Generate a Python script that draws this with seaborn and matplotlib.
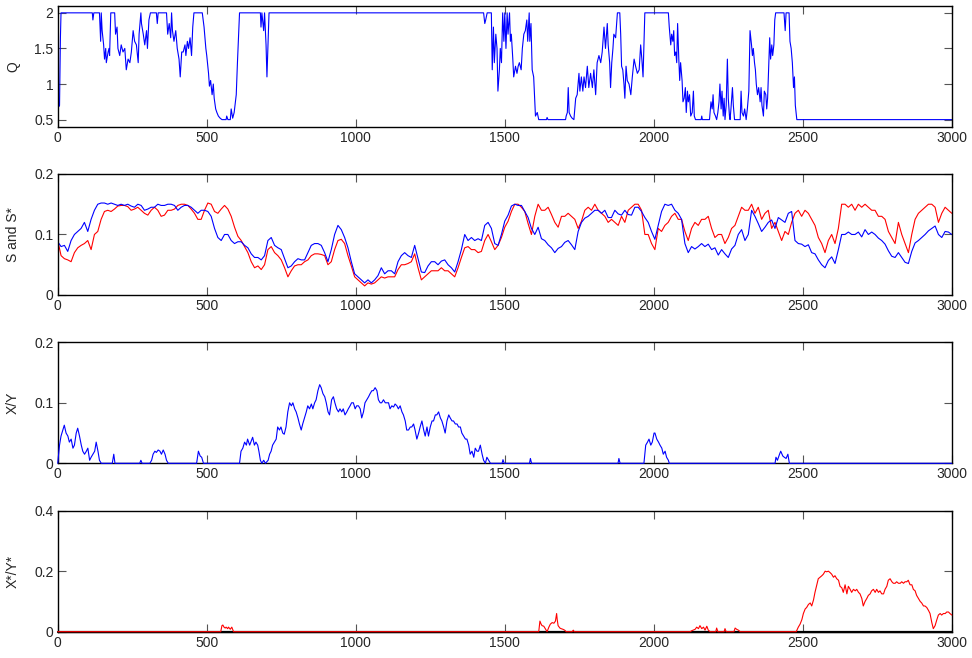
import numpy as np
import matplotlib
matplotlib.use('Agg')
import matplotlib.pyplot as plt
import seaborn as sns

# ---- values ----

# Q (top panel), time and value
q_t = [0, 3, 6, 9, 11, 116, 118, 121, 140, 144, 146, 149, 154, 157, 161, 163, 169, 172, 174, 178,
       191, 194, 199, 202, 208, 213, 219, 225, 230, 236, 242, 247, 253, 258, 264, 270, 273, 279, 281, 287,
       292, 298, 301, 306, 311, 331, 334, 337, 365, 369, 374, 379, 382, 385, 390, 396, 401, 407, 411, 416,
       421, 427, 430, 435, 439, 444, 449, 453, 457, 485, 491, 497, 500, 506, 509, 513, 518, 522, 525, 530,
       534, 539, 545, 551, 565, 567, 571, 579, 582, 587, 592, 596, 599, 603, 610, 680, 682, 685, 691, 694,
       699, 702, 706, 709,
       1429, 1433, 1436, 1441, 1455, 1458, 1462, 1465, 1470, 1474, 1477, 1482, 1485, 1489, 1493, 1497,
       1500, 1504, 1508, 1511, 1516, 1519, 1522, 1527, 1530, 1536, 1541, 1545, 1549, 1555, 1559, 1564,
       1569, 1574, 1577, 1582, 1584, 1588, 1592, 1597, 1603, 1609, 1614, 1640, 1642, 1645, 1704, 1706,
       1710, 1713, 1716, 1721, 1726, 1732, 1738, 1743, 1749, 1752, 1757, 1762, 1766, 1771, 1777, 1782,
       1788, 1794, 1799, 1805, 1810, 1816, 1822, 1827, 1833, 1838, 1844, 1847, 1852, 1855, 1859, 1863,
       1866, 1872, 1878, 1886, 1889, 1892, 1896, 1900, 1903, 1907, 1911, 1917, 1923, 1928, 1934, 1939,
       1945, 1951, 1956, 1960, 1964, 1970,
       2049, 2052, 2057, 2060, 2064, 2067, 2070, 2074, 2077, 2080, 2084, 2087, 2090, 2095, 2098, 2102,
       2106, 2109, 2113, 2116, 2120, 2124, 2129, 2133, 2136, 2140, 2159, 2161, 2163, 2187, 2189, 2192,
       2196, 2199, 2202, 2207, 2211, 2215, 2219, 2222, 2226, 2229, 2233, 2236, 2239, 2243, 2247, 2250,
       2254, 2256, 2259, 2264, 2267, 2271, 2290, 2293, 2296, 2301, 2305, 2310, 2314, 2319, 2323, 2328,
       2331, 2334, 2338, 2341, 2344, 2348, 2352, 2357, 2360, 2363, 2368, 2371, 2376, 2379, 2382, 2386,
       2389, 2392, 2396, 2399, 2403, 2406, 2409, 2437, 2441, 2444, 2454, 2457, 2461, 2465, 2469, 2472,
       2475, 2480, 3000]
q_v = [1.0, 0.68, 0.7, 1.65, 2.0, 2.0, 1.9, 2.0, 2.0, 1.6, 2.0, 1.75, 1.55, 1.35, 1.5, 1.3, 1.45, 1.5, 1.4, 2.0,
       2.0, 1.7, 1.8, 1.5, 1.4, 1.55, 1.45, 1.5, 1.2, 1.35, 1.3, 1.45, 1.75, 1.6, 1.55, 1.3, 1.7, 2.0, 1.85, 1.7,
       1.55, 1.75, 1.5, 1.9, 2.0, 2.0, 1.85, 2.0, 2.0, 1.7, 1.85, 1.65, 2.0, 1.75, 1.6, 1.75, 1.5, 1.35, 1.1, 1.45,
       1.45, 1.55, 1.4, 1.6, 1.5, 1.65, 1.4, 1.8, 2.0, 2.0, 1.8, 1.5, 1.4, 1.15, 0.97, 1.05, 0.85, 1.0, 0.8, 0.65,
       0.6, 0.55, 0.52, 0.5, 0.5, 0.55, 0.5, 0.5, 0.65, 0.52, 0.6, 0.75, 0.85, 1.3, 2.0, 2.0, 1.8, 2.0, 1.75, 2.0,
       1.55, 1.1, 1.6, 2.0,
       2.0, 1.85, 1.9, 2.0, 2.0, 1.2, 1.8, 1.3, 1.7, 1.5, 0.9, 1.2, 1.5, 1.3, 2.0, 1.6,
       2.0, 1.5, 2.0, 1.7, 2.0, 1.6, 1.7, 1.35, 1.1, 1.25, 1.15, 1.25, 1.3, 1.2, 1.5, 1.7,
       1.75, 1.9, 1.6, 2.0, 1.6, 1.85, 1.2, 1.1, 0.55, 0.6, 0.5, 0.5, 0.53, 0.5, 0.5, 0.55,
       0.6, 0.95, 0.6, 0.55, 0.52, 0.5, 0.8, 0.85, 1.15, 0.9, 1.1, 0.9, 1.1, 0.95, 1.25, 0.95,
       1.15, 0.95, 1.2, 0.85, 1.3, 1.4, 1.3, 1.45, 1.8, 1.5, 1.85, 1.55, 1.3, 0.95, 1.3, 1.5,
       1.7, 1.65, 2.0, 2.0, 1.7, 1.25, 1.2, 1.0, 0.8, 1.25, 1.05, 1.0, 0.85, 1.1, 1.35, 1.25,
       1.15, 1.2, 1.55, 1.35, 1.1, 2.0,
       2.0, 1.8, 1.55, 1.7, 1.6, 1.75, 1.4, 1.45, 1.3, 1.85, 1.35, 1.05, 1.3, 1.05, 0.75, 0.8,
       0.95, 0.6, 0.9, 0.75, 0.85, 0.55, 0.6, 0.9, 0.55, 0.5, 0.5, 0.55, 0.5, 0.5, 0.6, 0.75,
       0.65, 0.85, 0.6, 0.55, 0.5, 0.6, 0.75, 1.0, 0.65, 0.9, 0.55, 0.8, 0.5, 0.7, 1.35, 0.8,
       0.55, 0.5, 0.65, 0.95, 0.7, 0.5, 0.5, 0.9, 0.6, 0.55, 0.65, 0.5, 0.65, 0.9, 1.75, 1.55,
       1.4, 1.5, 1.3, 1.2, 1.0, 0.85, 0.95, 0.75, 0.95, 0.7, 0.55, 0.9, 0.85, 0.65, 0.8, 1.3,
       1.65, 1.35, 1.55, 1.4, 1.55, 1.9, 2.0, 2.0, 1.75, 2.0, 2.0, 1.6, 1.5, 1.3, 0.95, 1.1,
       0.7, 0.5, 0.5]

# S (blue) and S* (red), sampled evenly over 0..3000
s_blue = [0.088, 0.08, 0.082, 0.072, 0.09, 0.1, 0.105, 0.11, 0.12, 0.105,
          0.125, 0.14, 0.15, 0.152, 0.152, 0.15, 0.152, 0.15, 0.148, 0.15,
          0.148, 0.15, 0.147, 0.145, 0.15, 0.148, 0.14, 0.142, 0.145, 0.145,
          0.15, 0.148, 0.148, 0.15, 0.15, 0.148, 0.14, 0.145, 0.148, 0.148,
          0.145, 0.14, 0.135, 0.14, 0.14, 0.138, 0.13, 0.11, 0.095, 0.09,
          0.1, 0.1, 0.09, 0.085, 0.088, 0.088, 0.082, 0.078, 0.068, 0.062,
          0.062, 0.058, 0.065, 0.09, 0.095, 0.082, 0.078, 0.075, 0.06, 0.045,
          0.048, 0.055, 0.06, 0.058, 0.058, 0.07, 0.082, 0.085, 0.085, 0.082,
          0.07, 0.055, 0.075, 0.1, 0.115,
          0.108, 0.095, 0.078, 0.055, 0.035, 0.03, 0.025, 0.02, 0.025, 0.02,
          0.025, 0.032, 0.045, 0.035, 0.04, 0.04, 0.035, 0.055, 0.065, 0.07,
          0.065, 0.062, 0.082, 0.06, 0.038, 0.037, 0.048, 0.055, 0.055, 0.05,
          0.056, 0.058, 0.05, 0.045, 0.038, 0.055, 0.075, 0.1, 0.09, 0.095,
          0.09, 0.093, 0.09, 0.115, 0.12, 0.11, 0.085, 0.082, 0.1, 0.122,
          0.132, 0.147, 0.15, 0.148, 0.148, 0.138, 0.128, 0.11, 0.1, 0.112,
          0.093, 0.09, 0.083, 0.078, 0.07, 0.077, 0.08, 0.087, 0.09, 0.083,
          0.075, 0.105, 0.12, 0.127, 0.13, 0.135, 0.14, 0.14, 0.135, 0.14,
          0.128, 0.128, 0.14, 0.134, 0.132, 0.14, 0.133, 0.132, 0.145, 0.145,
          0.138,
          0.128, 0.12, 0.105, 0.092, 0.115, 0.138, 0.15, 0.148, 0.15, 0.14,
          0.135, 0.125, 0.085, 0.07, 0.08, 0.076, 0.08, 0.085, 0.08, 0.084,
          0.075, 0.078, 0.066, 0.075, 0.068, 0.062, 0.076, 0.082, 0.1, 0.108,
          0.09, 0.1, 0.14, 0.13, 0.118, 0.105, 0.112, 0.12, 0.124, 0.11,
          0.128, 0.124, 0.12, 0.135, 0.138, 0.09, 0.085, 0.084, 0.08, 0.083,
          0.07, 0.068, 0.058, 0.05, 0.045, 0.057, 0.063, 0.052, 0.075, 0.1,
          0.1, 0.104, 0.1, 0.1, 0.104, 0.096, 0.108, 0.1, 0.104, 0.1,
          0.094, 0.09, 0.084, 0.073, 0.064, 0.062, 0.07, 0.062, 0.054, 0.052,
          0.072, 0.086, 0.09, 0.095, 0.1, 0.106, 0.11, 0.114, 0.1, 0.095,
          0.105, 0.104, 0.1]
s_red = [0.09, 0.065, 0.06, 0.058, 0.055, 0.07, 0.078, 0.082, 0.085, 0.09,
         0.075, 0.1, 0.105, 0.125, 0.138, 0.14, 0.138, 0.142, 0.147, 0.148,
         0.148, 0.146, 0.14, 0.142, 0.145, 0.14, 0.135, 0.132, 0.14, 0.145,
         0.14, 0.13, 0.132, 0.14, 0.14, 0.142, 0.148, 0.15, 0.15, 0.148,
         0.142, 0.135, 0.125, 0.125, 0.14, 0.152, 0.15, 0.138, 0.135, 0.142,
         0.148, 0.142, 0.13, 0.112, 0.097, 0.09, 0.08, 0.07, 0.055, 0.045,
         0.048, 0.042, 0.05, 0.075, 0.08, 0.07, 0.065, 0.058, 0.045, 0.03,
         0.04, 0.048, 0.05, 0.05, 0.055, 0.058, 0.065, 0.068, 0.068, 0.067,
         0.065, 0.05, 0.055, 0.075, 0.09,
         0.092, 0.085, 0.065, 0.048, 0.03, 0.025, 0.02, 0.015, 0.02, 0.018,
         0.02, 0.025, 0.03, 0.028, 0.03, 0.03, 0.03, 0.042, 0.05, 0.05,
         0.052, 0.055, 0.068, 0.045, 0.025, 0.03, 0.035, 0.04, 0.04, 0.04,
         0.045, 0.04, 0.04, 0.035, 0.03, 0.045, 0.062, 0.078, 0.08, 0.075,
         0.075, 0.07, 0.072, 0.09, 0.1, 0.088, 0.075, 0.082, 0.095, 0.112,
         0.122, 0.138, 0.15, 0.15, 0.145, 0.138, 0.118, 0.1, 0.13, 0.15,
         0.14, 0.14, 0.145, 0.133, 0.12, 0.112, 0.13, 0.13, 0.135, 0.13,
         0.125, 0.11, 0.122, 0.14, 0.145, 0.14, 0.15, 0.14, 0.135, 0.13,
         0.12, 0.125, 0.12, 0.115, 0.13, 0.12, 0.14, 0.145, 0.15, 0.15,
         0.14,
         0.1, 0.1, 0.085, 0.075, 0.11, 0.105, 0.115, 0.12, 0.13, 0.135,
         0.125, 0.125, 0.105, 0.09, 0.11, 0.12, 0.115, 0.125, 0.125, 0.13,
         0.11, 0.095, 0.1, 0.1, 0.085, 0.095, 0.11, 0.115, 0.13, 0.145,
         0.14, 0.14, 0.15, 0.135, 0.145, 0.125, 0.135, 0.14, 0.11, 0.12,
         0.105, 0.09, 0.105, 0.1, 0.12, 0.135, 0.14, 0.13, 0.14, 0.135,
         0.125, 0.115, 0.095, 0.085, 0.07, 0.09, 0.1, 0.085, 0.11, 0.15,
         0.15, 0.145, 0.15, 0.14, 0.15, 0.145, 0.15, 0.145, 0.14, 0.14,
         0.13, 0.13, 0.125, 0.105, 0.095, 0.085, 0.12, 0.1, 0.085, 0.07,
         0.1, 0.125, 0.135, 0.14, 0.145, 0.15, 0.15, 0.145, 0.12, 0.135,
         0.145, 0.14, 0.135]

# X/Y (third panel)
xy_t = [0, 6, 11, 22, 28, 34, 39, 45, 51, 56, 62, 67, 73, 79, 84, 90, 96, 101, 107, 112, 118, 124, 129, 135, 140, 146,
        183, 188, 192, 275, 279, 283, 309, 315, 320, 326, 331, 337, 343, 348, 354, 360, 365, 371,
        466, 472, 478, 483, 489,
        610, 615, 621, 627, 633, 637, 644, 648, 654, 660, 665, 671, 675, 680, 685, 691, 697, 706, 711, 716,
        721, 727, 733, 738, 744, 749, 755, 760, 766, 772, 778, 784, 789, 795, 800, 806, 811, 817, 822, 828,
        834, 839, 845, 851, 856, 862, 867, 873, 879, 884, 890, 896, 901, 907, 912,
        919, 925, 930, 936, 942, 947, 953, 958, 964, 970, 975, 981, 986, 992, 998, 1003, 1009, 1015, 1020, 1026,
        1031, 1037, 1043, 1048, 1054, 1059, 1065, 1071, 1076, 1082, 1087, 1093, 1099, 1104, 1110, 1115, 1121,
        1127, 1132, 1138, 1143, 1149, 1155, 1160, 1166, 1171, 1177, 1183, 1188, 1194, 1199, 1205, 1211, 1216,
        1222, 1228, 1233, 1239, 1244, 1250, 1256, 1261, 1267, 1272, 1278, 1284, 1289, 1295, 1300, 1306, 1312,
        1317, 1323, 1328, 1334, 1340, 1345, 1351, 1356, 1362, 1368, 1373, 1379, 1384, 1390, 1396, 1401, 1407,
        1412, 1418, 1424, 1429, 1435, 1440, 1446, 1452, 1491, 1494, 1498, 1583, 1586, 1590, 1880, 1883, 1887,
        1967, 1973, 1979, 1984, 1990, 1995, 2001,
        2004, 2010, 2016, 2021, 2027, 2032, 2038, 2043, 2049, 2052, 2407, 2410, 2415, 2422, 2426, 2433, 2438,
        2444, 2450, 2455, 3000]
xy_v = [0, 0.03, 0.045, 0.063, 0.05, 0.045, 0.035, 0.04, 0.025, 0.03, 0.05, 0.058, 0.045, 0.03, 0.02, 0.015,
        0.02, 0.025, 0.005, 0.01, 0.015, 0.02, 0.035, 0.02, 0.005, 0,
        0, 0.015, 0, 0, 0.005, 0, 0, 0.005, 0.015, 0.02, 0.018, 0.022, 0.02, 0.015, 0.022, 0.015, 0.005, 0,
        0, 0.02, 0.012, 0.01, 0,
        0, 0.02, 0.025, 0.035, 0.03, 0.04, 0.03, 0.035, 0.043, 0.03, 0.035, 0.03, 0.02, 0.005, 0, 0.005, 0,
        0.005, 0.015, 0.02, 0.03, 0.035, 0.04, 0.06, 0.055, 0.06, 0.05, 0.048, 0.06, 0.085, 0.1, 0.095, 0.1,
        0.09, 0.085, 0.075, 0.065, 0.055, 0.065, 0.075, 0.085, 0.095, 0.09, 0.098, 0.09, 0.1, 0.105, 0.12,
        0.13, 0.125, 0.115, 0.11, 0.1, 0.085, 0.08,
        0.105, 0.11, 0.1, 0.09, 0.085, 0.09, 0.085, 0.09, 0.08, 0.085, 0.09, 0.095, 0.1, 0.1, 0.09, 0.095,
        0.095, 0.09, 0.075, 0.085, 0.1, 0.105, 0.11, 0.115, 0.12, 0.12, 0.125, 0.12, 0.105, 0.1, 0.1, 0.105,
        0.1, 0.1, 0.1, 0.09, 0.095, 0.093, 0.098, 0.095, 0.09, 0.095, 0.085, 0.08, 0.07, 0.055, 0.055, 0.06,
        0.06, 0.065, 0.055, 0.04, 0.05, 0.06, 0.07, 0.055, 0.045, 0.06, 0.045, 0.06, 0.07, 0.07, 0.08, 0.08,
        0.085, 0.075, 0.07, 0.06, 0.05, 0.07, 0.08, 0.075, 0.07, 0.07, 0.065, 0.065, 0.06, 0.06, 0.05, 0.045,
        0.04, 0.04, 0.03, 0.015, 0.02, 0.01, 0.025, 0.02, 0.02, 0.03, 0.015, 0.005, 0, 0.01, 0.005, 0,
        0, 0.006, 0, 0, 0.008, 0, 0, 0.008, 0,
        0, 0.03, 0.035, 0.04, 0.03, 0.035, 0.05,
        0.05, 0.04, 0.035, 0.03, 0.025, 0.015, 0.02, 0.01, 0.005, 0, 0, 0.01, 0.005, 0.015, 0.02, 0.012,
        0.01, 0.008, 0.015, 0, 0]

# X*/Y* (bottom panel): red series, plus the black series that stays at zero
xs_t = [0, 547, 551, 554, 558, 562, 565, 570, 573, 579, 584, 590,
        1614, 1618, 1622, 1625, 1631, 1637, 1642, 1648, 1653, 1659, 1665, 1670, 1674, 1676, 1679, 1685,
        1689, 1695, 1701, 1706, 1726, 1730, 1733,
        2122, 2127, 2139, 2144, 2150, 2155, 2161, 2167, 2172, 2178, 2183, 2189, 2208, 2211, 2215, 2236,
        2239, 2243, 2269, 2273, 2278, 2284, 2290, 2478,
        2485, 2491, 2497, 2502, 2508, 2513, 2519, 2525, 2530, 2536, 2541, 2547, 2552, 2558, 2564, 2569,
        2575, 2580, 2586, 2592, 2597, 2603, 2608, 2614, 2620, 2625, 2631, 2636, 2642, 2648, 2653, 2659,
        2664, 2670, 2676, 2681, 2687, 2692, 2698, 2703, 2709, 2715, 2720, 2726, 2731, 2737, 2743, 2748,
        2754, 2759, 2765, 2771, 2776, 2782, 2787, 2793, 2799, 2804, 2810, 2815, 2821, 2827, 2832, 2838,
        2843, 2849, 2854, 2860, 2866, 2871, 2877, 2882, 2888, 2894, 2899, 2905, 2910, 2916, 2922, 2927,
        2933, 2938, 2944, 2950, 2955, 2961, 2966, 2972, 2978, 2983, 2989, 2994, 3000]
xs_v = [0, 0, 0.02, 0.022, 0.015, 0.012, 0.015, 0.01, 0.015, 0.008, 0.015, 0,
        0, 0.035, 0.025, 0.02, 0.018, 0.008, 0, 0.015, 0.025, 0.03, 0.028, 0.035, 0.06, 0.04, 0.02, 0.012,
        0.01, 0.008, 0.005, 0, 0, 0.005, 0,
        0, 0.003, 0.008, 0.015, 0.01, 0.02, 0.01, 0.015, 0.005, 0.018, 0.005, 0, 0, 0.012, 0, 0,
        0.01, 0, 0, 0.012, 0.008, 0.005, 0, 0,
        0.015, 0.025, 0.04, 0.06, 0.075, 0.08, 0.09, 0.095, 0.085, 0.105, 0.13, 0.155, 0.175, 0.18, 0.185, 0.19,
        0.2, 0.198, 0.2, 0.195, 0.19, 0.18, 0.185, 0.175, 0.17, 0.15, 0.145, 0.13, 0.155, 0.125, 0.15, 0.14,
        0.13, 0.14, 0.135, 0.14, 0.13, 0.125, 0.11, 0.085, 0.1, 0.11, 0.12, 0.125, 0.135, 0.14, 0.13, 0.14,
        0.13, 0.135, 0.125, 0.125, 0.14, 0.15, 0.17, 0.175, 0.165, 0.16, 0.16, 0.165, 0.16, 0.16, 0.165, 0.16,
        0.165, 0.165, 0.17, 0.155, 0.155, 0.14, 0.135, 0.12, 0.11, 0.1, 0.095, 0.085, 0.085, 0.08, 0.07, 0.06,
        0.03, 0.01, 0.02, 0.04, 0.055, 0.06, 0.055, 0.06, 0.06, 0.065, 0.065, 0.06, 0.055]
zero_t = [0, 3000]
zero_v = [0, 0]

# axis settings per panel
y_labels = ['Q', 'S and S*', 'X/Y', 'X*/Y*']
y_limits = [(0.4, 2.1), (0, 0.2), (0, 0.2), (0, 0.4)]
y_ticks = [[0.5, 1, 1.5, 2], [0, 0.1, 0.2], [0, 0.1, 0.2], [0, 0.2, 0.4]]
y_ticklabels = [['0.5', '1', '1.5', '2'], ['0', '0.1', '0.2'], ['0', '0.1', '0.2'], ['0', '0.2', '0.4']]
x_ticks = [0, 500, 1000, 1500, 2000, 2500, 3000]

sns.set_style('ticks')
plt.rcParams['font.family'] = ['Liberation Sans', 'DejaVu Sans']
plt.rcParams['font.size'] = 10

fig = plt.figure(figsize=(9.72, 6.58), dpi=100)
bottoms = [0.8074, 0.5517, 0.2959, 0.040]
axes = [fig.add_axes([0.0594, b, 0.9198, 0.1839]) for b in bottoms]

blue = '#0000ff'
red = '#ff0000'
lw = 0.8

s_t = np.linspace(0, 3000, len(s_blue))
sr_t = np.linspace(0, 3000, len(s_red))

sns.lineplot(x=q_t, y=q_v, ax=axes[0], color=blue, linewidth=lw, estimator=None, sort=False)
sns.lineplot(x=sr_t, y=s_red, ax=axes[1], color=red, linewidth=lw, estimator=None, sort=False)
sns.lineplot(x=s_t, y=s_blue, ax=axes[1], color=blue, linewidth=lw, estimator=None, sort=False)
sns.lineplot(x=xy_t, y=xy_v, ax=axes[2], color=blue, linewidth=lw, estimator=None, sort=False,
             clip_on=False, zorder=3)
sns.lineplot(x=zero_t, y=zero_v, ax=axes[3], color='black', linewidth=1.6, estimator=None, sort=False,
             clip_on=False, zorder=3)
sns.lineplot(x=xs_t, y=xs_v, ax=axes[3], color=red, linewidth=lw, estimator=None, sort=False,
             clip_on=False, zorder=4)

for i, ax in enumerate(axes):
    ax.set_xlim(0, 3000)
    ax.set_ylim(*y_limits[i])
    ax.set_xticks(x_ticks)
    ax.set_xticklabels([str(v) for v in x_ticks])
    ax.set_yticks(y_ticks[i])
    ax.set_yticklabels(y_ticklabels[i])
    ax.set_ylabel(y_labels[i], fontsize=10)
    ax.set_xlabel('')
    ax.yaxis.set_label_coords(-0.042, 0.5)
    ax.tick_params(direction='in', top=True, right=True, length=6, width=0.8,
                   color='#555555', labelsize=10, pad=3)
    for sp in ax.spines.values():
        sp.set_visible(True)
        sp.set_linewidth(1.0)
        sp.set_color('black')

fig.savefig('out.png', dpi=100, facecolor='white')
